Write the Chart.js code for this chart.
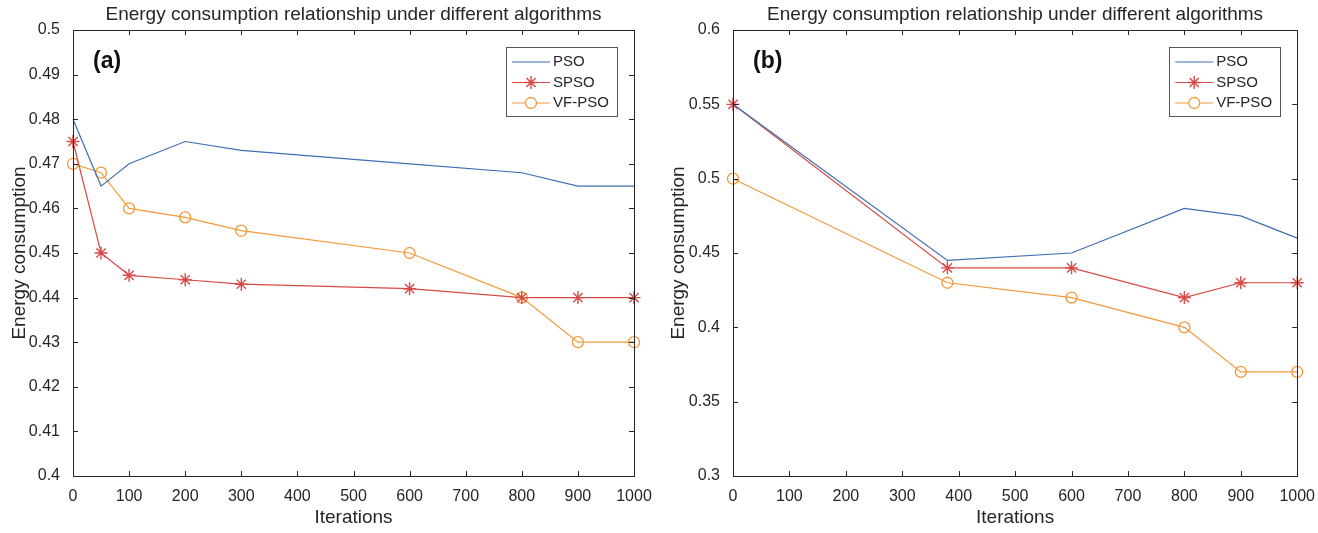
<!DOCTYPE html>
<html>
<head>
<meta charset="utf-8">
<script src="https://cdn.jsdelivr.net/npm/chart.js@4/dist/chart.umd.min.js"></script>
<style>
  html, body { margin: 0; padding: 0; background: #fff; }
  .wrap { display: flex; width: 1318px; height: 533px; }
  .box { position: relative; width: 659px; height: 533px; }
</style>
</head>
<body>
<div class="wrap">
  <div class="box"><canvas id="chartA"></canvas></div>
  <div class="box"><canvas id="chartB"></canvas></div>
</div>
<script>
const seriesNames = ["PSO", "SPSO", "VF-PSO"];

// panel (a)
const iterA = [0, 50, 100, 200, 300, 600, 800, 900, 1000];
const psoA  = [0.48, 0.465, 0.47, 0.475, 0.473, 0.47, 0.468, 0.465, 0.465];
const spsoA = [0.475, 0.45, 0.445, 0.444, 0.443, 0.442, 0.44, 0.44, 0.44];
const vfA   = [0.47, 0.468, 0.46, 0.458, 0.455, 0.45, 0.44, 0.43, 0.43];

// panel (b)
const iterB = [0, 380, 600, 800, 900, 1000];
const psoB  = [0.55, 0.445, 0.45, 0.48, 0.475, 0.46];
const spsoB = [0.55, 0.44, 0.44, 0.42, 0.43, 0.43];
const vfB   = [0.5, 0.43, 0.42, 0.4, 0.37, 0.37];

const colors = ["#3f6fb2", "#d84a45", "#f2993a"];
const FONT = "'Liberation Sans', Arial, sans-serif";
const TXT = "#262626";

function pts(xs, ys) { return xs.map((x, i) => ({ x: x, y: ys[i] })); }

function makeDatasets(xs, a, b, c) {
  return [
    { label: seriesNames[0], data: pts(xs, a), borderColor: colors[0], borderWidth: 1.2,
      pointRadius: 0, pointHoverRadius: 0, tension: 0, clip: false },
    { label: seriesNames[1], data: pts(xs, b), borderColor: colors[1], borderWidth: 1.2,
      pointStyle: "star", pointRadius: 6.5, pointBorderColor: colors[1], pointBorderWidth: 1.4,
      pointBackgroundColor: colors[1], tension: 0, clip: false },
    { label: seriesNames[2], data: pts(xs, c), borderColor: colors[2], borderWidth: 1.2,
      pointStyle: "circle", pointRadius: 5.5, pointBorderColor: colors[2], pointBorderWidth: 1.3,
      pointBackgroundColor: "rgba(255,255,255,0)", tension: 0, clip: false }
  ];
}

// box, inward ticks, title, panel tag and legend
const decor = {
  id: "decor",
  afterDraw(chart, args, opts) {
    const ctx = chart.ctx, a = chart.chartArea;
    const xs = chart.scales.x, ys = chart.scales.y;
    ctx.save();
    ctx.strokeStyle = "#262626";
    ctx.lineWidth = 1;
    const L = 5;
    ctx.beginPath();
    xs.ticks.forEach(t => {
      const px = Math.round(xs.getPixelForValue(t.value)) + 0.5;
      ctx.moveTo(px, a.bottom); ctx.lineTo(px, a.bottom - L);
      ctx.moveTo(px, a.top); ctx.lineTo(px, a.top + L);
    });
    ys.ticks.forEach(t => {
      const py = Math.round(ys.getPixelForValue(t.value)) + 0.5;
      ctx.moveTo(a.left, py); ctx.lineTo(a.left + L, py);
      ctx.moveTo(a.right, py); ctx.lineTo(a.right - L, py);
    });
    ctx.stroke();
    ctx.strokeRect(Math.round(a.left) + 0.5, Math.round(a.top) + 0.5,
      Math.round(a.right - a.left), Math.round(a.bottom - a.top));

    // title
    ctx.fillStyle = TXT;
    ctx.font = "19px " + FONT;
    ctx.textAlign = "center";
    ctx.textBaseline = "middle";
    ctx.fillText("Energy consumption relationship under different algorithms", (a.left + a.right) / 2, 15);

    // panel tag
    ctx.font = "bold 23px " + FONT;
    ctx.textAlign = "left";
    ctx.fillStyle = "#111";
    ctx.fillText(opts.tag, a.left + 20, 62);

    // legend
    const lw = 111, lh = 69;
    const lx = a.right - 17 - lw, ly = a.top + 17;
    ctx.fillStyle = "#fff";
    ctx.fillRect(lx, ly, lw, lh);
    ctx.strokeStyle = "#555";
    ctx.lineWidth = 1;
    ctx.strokeRect(Math.round(lx) + 0.5, Math.round(ly) + 0.5, lw, lh);
    ctx.font = "15px " + FONT;
    ctx.textBaseline = "middle";
    chart.data.datasets.forEach((ds, i) => {
      const yy = ly + 15 + i * 20.5;
      ctx.strokeStyle = ds.borderColor;
      ctx.lineWidth = 1.2;
      ctx.beginPath();
      ctx.moveTo(lx + 6, yy); ctx.lineTo(lx + 44, yy);
      ctx.stroke();
      if (ds.pointRadius > 0) {
        ctx.strokeStyle = ds.borderColor;
        ctx.fillStyle = ds.pointStyle === "circle" ? "#fff" : ds.borderColor;
        ctx.lineWidth = ds.pointBorderWidth;
        Chart.helpers.drawPoint(ctx, {
          pointStyle: ds.pointStyle, rotation: 0, radius: ds.pointRadius,
          borderWidth: ds.pointBorderWidth
        }, lx + 25, yy);
      }
      ctx.fillStyle = TXT;
      ctx.textAlign = "left";
      ctx.fillText(ds.label, lx + 47, yy);
    });
    ctx.restore();
  }
};

function makeChart(id, tag, xs, a, b, c, yMin, yMax, yStep, padL, padR) {
  return new Chart(document.getElementById(id), {
    type: "line",
    data: { datasets: makeDatasets(xs, a, b, c) },
    plugins: [decor],
    options: {
      responsive: true,
      maintainAspectRatio: false,
      animation: false,
      layout: { padding: { top: 30, right: padR, left: 4, bottom: 0 } },
      plugins: {
        legend: { display: false },
        tooltip: { enabled: false },
        decor: { tag: tag }
      },
      scales: {
        x: {
          type: "linear", min: 0, max: 1000,
          grid: { display: false },
          border: { display: false },
          ticks: { stepSize: 100, color: TXT, font: { family: FONT, size: 16 }, padding: 3, maxRotation: 0,
            callback: v => String(v) },
          title: { display: true, text: "Iterations", color: TXT, font: { family: FONT, size: 19 }, padding: { top: 0 } },
          afterFit: s => { s.height = 57; }
        },
        y: {
          min: yMin, max: yMax,
          grid: { display: false },
          border: { display: false },
          ticks: {
            stepSize: yStep, color: TXT, font: { family: FONT, size: 16 }, padding: 5,
            callback: v => String(parseFloat(v.toFixed(3)))
          },
          title: { display: true, text: "Energy consumption", color: TXT, font: { family: FONT, size: 19 }, padding: { bottom: 2 } },
          afterFit: s => { s.width = padL - 4; }
        }
      }
    }
  });
}

makeChart("chartA", "(a)", iterA, psoA, spsoA, vfA, 0.4, 0.5, 0.01, 73, 25);
makeChart("chartB", "(b)", iterB, psoB, spsoB, vfB, 0.3, 0.6, 0.05, 74, 16);
</script>
</body>
</html>
